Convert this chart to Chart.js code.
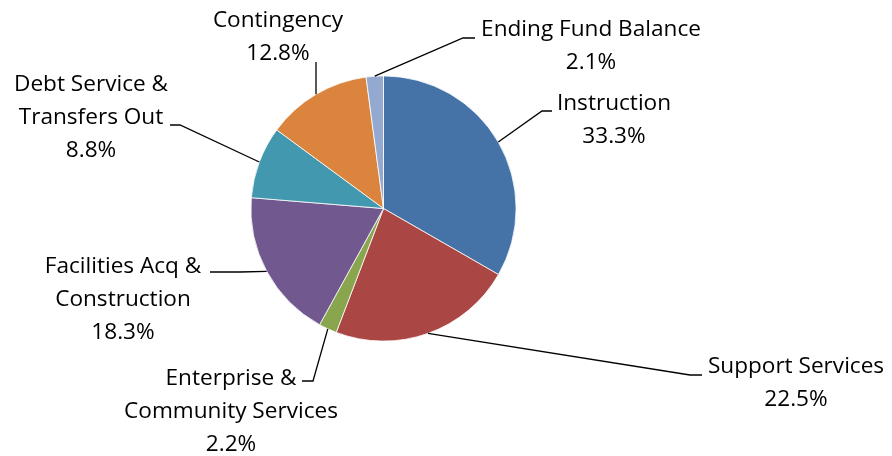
<!DOCTYPE html>
<html>
<head>
<meta charset="utf-8">
<script src="https://cdn.jsdelivr.net/npm/chart.js@4/dist/chart.umd.min.js"></script>
<style>
  html, body { margin: 0; padding: 0; background: #ffffff; }
  #wrap { width: 892px; height: 456px; position: relative; }
</style>
</head>
<body>
<div id="wrap"><canvas id="c" width="892" height="456"></canvas></div>
<script>
// ---- data ----
const categories = [
  "Instruction",
  "Support Services",
  "Enterprise & Community Services",
  "Facilities Acq & Construction",
  "Debt Service & Transfers Out",
  "Contingency",
  "Ending Fund Balance"
];
const shares = [33.3, 22.5, 2.2, 18.3, 8.8, 12.8, 2.1];
const labelText = [
  ["Instruction"],
  ["Support Services"],
  ["Enterprise &", "Community Services"],
  ["Facilities Acq &", "Construction"],
  ["Debt Service &", "Transfers Out"],
  ["Contingency"],
  ["Ending Fund Balance"]
];

// ---- styles / layout ----
const sliceColors = ["#4572A7", "#AA4643", "#89A54E", "#71588F", "#4198AF", "#DB843D", "#93A9CF"];
const labelLayout = [
  { x: 614, y: 104, elbow: [542, 111], end: [552, 111] },
  { x: 796, y: 367, elbow: [690, 375], end: [702, 375] },
  { x: 231, y: 379, elbow: [313, 381], end: [302, 381] },
  { x: 123, y: 267, elbow: [240, 272], end: [210, 272] },
  { x: 91,  y: 85,  elbow: [180, 125], end: [170, 125] },
  { x: 278, y: 21,  elbow: [316, 62],  end: [316, 62] },
  { x: 591, y: 30,  elbow: [463, 38],  end: [475, 38] }
];
const LINE_H = 32.7;
const FONT = '22.6px "Open Sans", "Liberation Sans", sans-serif';

const labelPlugin = {
  id: 'outsideLabels',
  afterDatasetsDraw(chart) {
    const ctx = chart.ctx;
    const meta = chart.getDatasetMeta(0);
    ctx.save();
    meta.data.forEach((arc, i) => {
      const p = arc.getProps(['x', 'y', 'startAngle', 'endAngle', 'outerRadius'], true);
      const mid = (p.startAngle + p.endAngle) / 2;
      const sx = p.x + Math.cos(mid) * p.outerRadius;
      const sy = p.y + Math.sin(mid) * p.outerRadius;
      const L = labelLayout[i];
      ctx.beginPath();
      ctx.strokeStyle = '#000000';
      ctx.lineWidth = 1.3;
      ctx.moveTo(sx, sy);
      ctx.lineTo(L.elbow[0], L.elbow[1]);
      ctx.lineTo(L.end[0], L.end[1]);
      ctx.stroke();

      const lines = labelText[i].concat([shares[i].toFixed(1) + '%']);
      ctx.fillStyle = '#000000';
      ctx.font = FONT;
      ctx.textAlign = 'center';
      ctx.textBaseline = 'middle';
      lines.forEach((t, k) => {
        ctx.fillText(t, L.x, L.y + k * LINE_H);
      });
    });
    ctx.restore();
  }
};

new Chart(document.getElementById('c'), {
  type: 'pie',
  data: {
    labels: categories,
    datasets: [{
      data: shares,
      backgroundColor: sliceColors,
      borderColor: '#ffffff',
      borderWidth: 0.8
    }]
  },
  options: {
    responsive: false,
    animation: false,
    layout: { padding: { top: 75.5, bottom: 114.5, left: 250.5, right: 375.5 } },
    plugins: {
      legend: { display: false },
      tooltip: { enabled: false },
      title: { display: false }
    }
  },
  plugins: [labelPlugin]
});
</script>
</body>
</html>
